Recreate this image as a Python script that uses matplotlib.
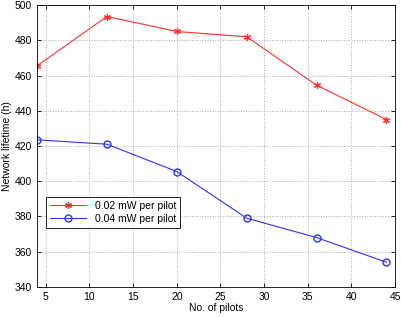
import numpy as np
import matplotlib.pyplot as plt

pilots = [4, 12, 20, 28, 36, 44]
life_002 = [465.5, 493.5, 485.0, 482.0, 454.5, 435.0]
life_004 = [423.5, 421.0, 405.5, 379.0, 368.0, 354.0]

plt.rcParams['font.family'] = 'Liberation Sans'
plt.rcParams['font.size'] = 7.5

fig = plt.figure(figsize=(4.02, 3.17), dpi=100)
ax = fig.add_axes([0.092, 0.095, 0.891, 0.889])

ax.plot(pilots, life_002, color='#ff3030', lw=0.8, marker=(6, 2, 0), ms=5,
        mew=0.9, label='0.02 mW per pilot')
ax.plot(pilots, life_004, color='#3030ff', lw=0.8, marker='o', ms=5,
        mfc='none', label='0.04 mW per pilot')

ax.set_xlim(4, 45)
ax.set_ylim(340, 500)
ax.set_xticks(range(5, 46, 5))
ax.set_yticks(range(340, 501, 20))
ax.grid(True, linestyle=':', color='#aaaaaa', lw=0.7)
ax.tick_params(direction='in', length=3, width=0.6, top=True, right=True)
for s in ax.spines.values():
    s.set_linewidth(0.6)

ax.set_xlabel('No. of pilots', labelpad=1)
ax.set_ylabel('Network lifetime (h)', labelpad=2)

leg = ax.legend(loc='lower left', bbox_to_anchor=(0.01, 0.19), fancybox=False,
                edgecolor='black', framealpha=1, borderpad=0.4,
                handlelength=3.5, labelspacing=0.3)
leg.get_frame().set_linewidth(0.6)

fig.savefig('out.png', dpi=100)
